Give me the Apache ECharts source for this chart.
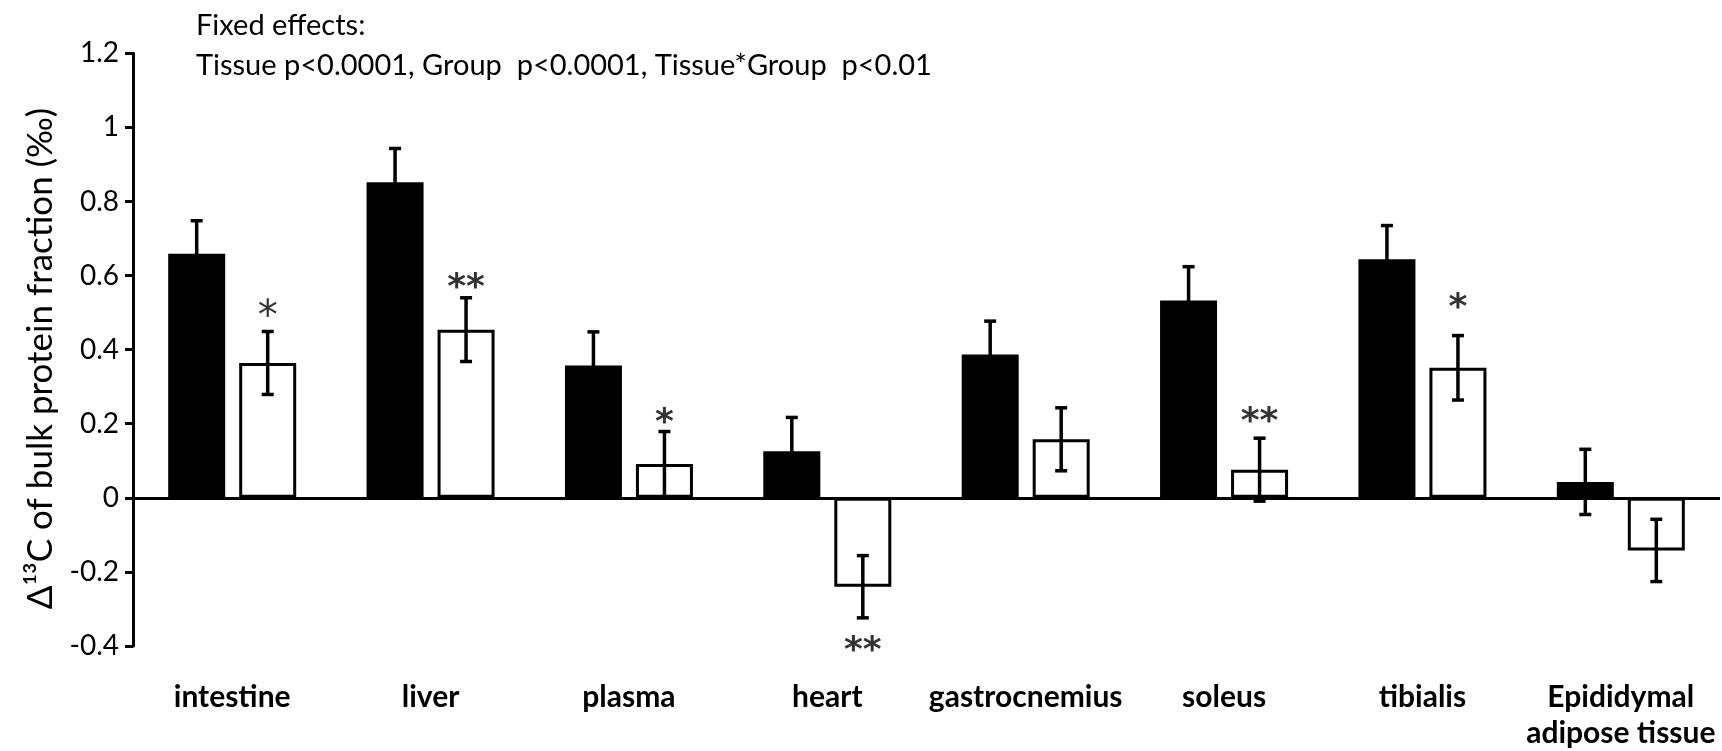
<!DOCTYPE html>
<html>
<head>
<meta charset="utf-8">
<script src="https://cdn.jsdelivr.net/npm/echarts@6/dist/echarts.min.js"></script>
<style>
  html, body { margin: 0; background: #fff; }
  #main { width: 1722px; height: 751px; }
</style>
</head>
<body>
<div id="main"></div>
<script>
// data
const tissues = ['intestine', 'liver', 'plasma', 'heart', 'gastrocnemius', 'soleus', 'tibialis', 'Epididymal\nadipose tissue'];
const blackVals = [0.659, 0.852, 0.357, 0.126, 0.387, 0.533, 0.644, 0.043];
const blackErr  = [0.089, 0.091, 0.091, 0.091, 0.090, 0.091, 0.091, 0.088];
const whiteVals = [0.364, 0.454, 0.091, -0.240, 0.158, 0.076, 0.351, -0.142];
const whiteErr  = [0.085, 0.086, 0.088, 0.084, 0.085, 0.085, 0.087, 0.084];
const stars = ['*', '**', '*', '**', '', '**', '*', ''];
const starY = [0.485, 0.564, 0.20, -0.40, null, 0.202, 0.512, null];
const yTicks = { min: -0.4, max: 1.2, step: 0.2 };

const FONT = 'Lato';
const BAR_W = 57;
const BAR_GAP = 14;
const OFF = (BAR_W + BAR_GAP) / 2;

const chart = echarts.init(document.getElementById('main'));

function errRender(offset) {
  return function (params, api) {
    const i = api.value(0);
    const v = api.value(1), e = api.value(2);
    const lo = api.coord([i, v - e]);
    const hi = api.coord([i, v + e]);
    const x = lo[0] + offset;
    const cap = 6;
    const st = { stroke: '#000', lineWidth: 3.5 };
    return {
      type: 'group',
      children: [
        { type: 'line', shape: { x1: x, y1: lo[1], x2: x, y2: hi[1] }, style: st },
        { type: 'line', shape: { x1: x - cap, y1: lo[1], x2: x + cap, y2: lo[1] }, style: st },
        { type: 'line', shape: { x1: x - cap, y1: hi[1], x2: x + cap, y2: hi[1] }, style: st }
      ]
    };
  };
}

const starData = [];
stars.forEach((s, i) => {
  if (!s) return;
  let lbl = { formatter: s };
  if (i === 0) lbl = { formatter: s, fontWeight: 'normal', fontSize: 40 };
  if (starY[i] < 0) lbl.offset = [OFF, 6];
  starData.push({ value: [i, starY[i]], label: lbl });
});

chart.setOption({
  animation: false,
  title: {
    text: 'Fixed effects:\nTissue p<0.0001, Group  p<0.0001, Tissue*Group  p<0.01',
    left: 191,
    top: 1,
    textStyle: { fontFamily: FONT, fontSize: 29, fontWeight: 'normal', color: '#000', lineHeight: 40 }
  },
  grid: { left: 133, right: 2, top: 53.3, bottom: 97.7 },
  xAxis: {
    type: 'category',
    data: tissues,
    axisLine: { show: false, onZero: false },
    axisTick: { show: false },
    axisLabel: {
      interval: 0,
      margin: 33,
      fontFamily: FONT,
      fontSize: 30,
      fontWeight: 'bold',
      color: '#000',
      lineHeight: 36
    }
  },
  yAxis: {
    type: 'value',
    min: yTicks.min,
    max: yTicks.max,
    interval: yTicks.step,
    splitLine: { show: false },
    axisLine: { show: true, lineStyle: { color: '#000', width: 3 } },
    axisTick: { show: true, length: 8, lineStyle: { color: '#000', width: 3 } },
    axisLabel: { fontFamily: FONT, fontSize: 28, color: '#000', margin: 14 },
    name: 'Δ¹³C of bulk protein fraction (‰)',
    nameLocation: 'middle',
    nameRotate: 90,
    nameGap: 72,
    nameTextStyle: { fontFamily: FONT, fontSize: 35, color: '#000', padding: [0, 18, 0, 0] }
  },
  series: [
    {
      type: 'bar',
      data: blackVals,
      barWidth: BAR_W,
      barGap: (BAR_GAP / BAR_W * 100) + '%',
      itemStyle: { color: '#000' },
      markLine: {
        silent: true,
        symbol: 'none',
        label: { show: false },
        lineStyle: { color: '#000', width: 3, type: 'solid' },
        data: [{ yAxis: 0 }]
      }
    },
    {
      type: 'bar',
      data: whiteVals,
      barWidth: BAR_W,
      itemStyle: { color: '#fff', borderColor: '#000', borderWidth: 3 }
    },
    {
      type: 'custom',
      renderItem: errRender(-OFF),
      data: blackVals.map((v, i) => [i, v, blackErr[i]]),
      z: 5
    },
    {
      type: 'custom',
      renderItem: errRender(OFF),
      data: whiteVals.map((v, i) => [i, v, whiteErr[i]]),
      z: 5
    },
    {
      type: 'scatter',
      data: starData,
      symbolSize: 0,
      clip: false,
      label: {
        show: true,
        position: 'inside',
        offset: [OFF, 0],
        fontFamily: 'DejaVu Sans',
        fontSize: 36,
        fontWeight: 'bold',
        color: '#000'
      },
      z: 6
    }
  ]
});
</script>
</body>
</html>
